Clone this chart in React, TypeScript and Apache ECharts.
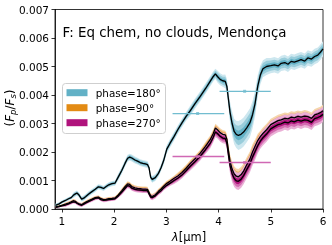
import React, { useEffect, useRef } from 'react';
import * as echarts from 'echarts';

const lam = [0.88,0.95,1.0,1.07,1.13,1.18,1.22,1.26,1.29,1.33,
1.38,1.42,1.46,1.51,1.57,1.64,1.70,1.75,1.80,1.85,
1.90,1.96,2.02,2.08,2.15,2.21,2.26,2.30,2.34,2.40,
2.45,2.50,2.55,2.60,2.64,2.67,2.70,2.73,2.79,2.85,
2.90,2.95,3.01,3.07,3.15,3.22,3.30,3.38,3.46,3.55,
3.65,3.75,3.84,3.90,3.94,3.98,4.03,4.08,4.13,4.16,
4.19,4.22,4.26,4.30,4.34,4.38,4.43,4.48,4.54,4.60,
4.65,4.70,4.75,4.80,4.85,4.92,5.00,5.07,5.14,5.20,
5.27,5.33,5.39,5.45,5.52,5.58,5.65,5.71,5.78,5.84,
5.90,5.95,6.00];

const phase180 = [0.00013,0.00018,0.00024,0.00030,0.00036,0.00040,0.00048,0.00053,0.00056,0.00049,
0.00035,0.00038,0.00044,0.00052,0.00060,0.00069,0.00078,0.00076,0.00072,0.00079,
0.00085,0.00089,0.00091,0.00112,0.00136,0.00160,0.00178,0.00182,0.00179,0.00172,
0.00168,0.00163,0.00160,0.00158,0.00156,0.00145,0.00112,0.00104,0.00110,0.00125,
0.00145,0.00170,0.00210,0.00230,0.00255,0.00278,0.00302,0.00325,0.00345,0.00370,
0.00395,0.00422,0.00448,0.00465,0.00474,0.00465,0.00455,0.00450,0.00448,0.00430,
0.00385,0.00340,0.00300,0.00272,0.00262,0.00258,0.00262,0.00270,0.00285,0.00302,
0.00330,0.00370,0.00430,0.00470,0.00492,0.00500,0.00503,0.00506,0.00502,0.00511,
0.00514,0.00508,0.00518,0.00515,0.00520,0.00524,0.00519,0.00530,0.00526,0.00535,
0.00540,0.00550,0.00562];

const phase90 = [0.00007,0.00010,0.00013,0.00017,0.00021,0.00025,0.00029,0.00027,0.00022,0.00018,
0.00015,0.00020,0.00024,0.00029,0.00034,0.00040,0.00042,0.00036,0.00033,0.00034,
0.00036,0.00037,0.00039,0.00049,0.00064,0.00078,0.00088,0.00086,0.00079,0.00074,
0.00072,0.00071,0.00070,0.00070,0.00069,0.00058,0.00046,0.00044,0.00050,0.00062,
0.00070,0.00080,0.00090,0.00097,0.00108,0.00116,0.00128,0.00143,0.00160,0.00176,
0.00196,0.00220,0.00243,0.00265,0.00284,0.00278,0.00268,0.00262,0.00260,0.00245,
0.00205,0.00168,0.00140,0.00123,0.00115,0.00113,0.00120,0.00133,0.00155,0.00175,
0.00200,0.00220,0.00240,0.00254,0.00265,0.00278,0.00296,0.00303,0.00310,0.00313,
0.00318,0.00316,0.00322,0.00320,0.00325,0.00322,0.00326,0.00324,0.00318,0.00330,
0.00334,0.00338,0.00345];

const phase270 = [0.00006,0.00008,0.00011,0.00014,0.00018,0.00022,0.00025,0.00024,0.00020,0.00016,
0.00013,0.00017,0.00021,0.00026,0.00031,0.00037,0.00039,0.00033,0.00030,0.00031,
0.00033,0.00034,0.00036,0.00045,0.00059,0.00072,0.00082,0.00080,0.00073,0.00069,
0.00067,0.00066,0.00065,0.00065,0.00064,0.00053,0.00042,0.00040,0.00046,0.00057,
0.00064,0.00074,0.00083,0.00090,0.00100,0.00108,0.00119,0.00134,0.00150,0.00166,
0.00185,0.00208,0.00230,0.00252,0.00270,0.00265,0.00255,0.00249,0.00247,0.00230,
0.00190,0.00152,0.00124,0.00107,0.00099,0.00097,0.00104,0.00117,0.00138,0.00158,
0.00182,0.00202,0.00222,0.00238,0.00250,0.00263,0.00281,0.00289,0.00296,0.00299,
0.00305,0.00302,0.00309,0.00306,0.00312,0.00308,0.00313,0.00311,0.00304,0.00317,
0.00321,0.00325,0.00332];

// 1-sigma spread, in units of 1e-5
const sig180 = [2,2,2,2,2,2,3,3,3,3, 3,3,3,3,3,3,3,3,3,3, 3,3,3,4,4,4,4,4,4,4,
4,4,4,4,4,4,4,4,4,4, 4,5,5,5,5,5,5,5,6,6, 6,6,6,6,6,7,7,7,8,9,
10,12,14,15,16,17,17,17,17,17, 16,15,13,11,10,10,9,9,9,9, 9,9,9,9,9,9,9,9,9,9, 9,9,9];
const sig90 = [1,1,1,2,2,2,2,2,2,2, 2,2,2,2,2,2,2,2,2,2, 2,2,2,2,3,3,3,3,3,3,
3,3,3,3,3,3,3,3,3,3, 3,3,3,3,3,4,4,4,4,4, 4,5,5,5,5,5,5,5,5,6,
7,8,9,9,9,9,9,9,9,9, 9,8,8,7,7,7,7,7,7,7, 7,7,7,7,7,7,7,7,7,7, 7,7,7];
const sig270 = [1,1,1,2,2,2,2,2,2,2, 2,2,2,2,2,2,2,2,2,2, 2,2,2,2,3,3,3,3,3,3,
3,3,3,3,3,3,3,3,3,3, 3,3,3,3,4,4,4,4,5,5, 5,5,6,6,6,6,6,6,6,7,
8,9,10,10,10,10,10,10,10,10, 10,10,9,9,9,9,9,9,9,9, 9,9,9,9,9,9,9,9,9,9, 9,9,9];

const xTicks = [1, 2, 3, 4, 5, 6];
const obsLam = [3.6, 4.5];
const obsLo = [3.12, 4.02];
const obsHi = [4.11, 5.0];
const obs180 = [0.00335, 0.00413];
const obs270 = [0.00184, 0.00163];

const legendNames = ['phase=180°', 'phase=90°', 'phase=270°'];
const legendColors = ['#62b1c6', '#e38b14', '#b0137c'];

const FONT = 'DejaVu Sans';

const C180 = ['#cde7ef', '#99cddb', '#62b1c6'];
const C90 = ['#f5d5ac', '#edae62', '#e38b14'];
const C270 = ['#eab0d6', '#d36bb0', '#b0137c'];

function band(name: string, vals: number[], sig: number[], k: number, color: string, z: number) {
  return {
    type: 'custom',
    name,
    z,
    silent: true,
    clip: true,
    coordinateSystem: 'cartesian2d',
    data: [[lam[0], vals[0]]],
    encode: { x: 0, y: 1 },
    itemStyle: { color },
    renderItem: (_p: any, api: any) => {
      const up = lam.map((l, i) => api.coord([l, vals[i] + k * sig[i] * 1e-5]));
      const dn = lam.map((l, i) => api.coord([l, vals[i] - k * sig[i] * 1e-5])).reverse();
      return { type: 'polygon', shape: { points: up.concat(dn) }, style: { fill: color } };
    },
  };
}

function median(name: string, vals: number[], z: number) {
  return {
    type: 'line', name, z, silent: true, symbol: 'none',
    data: lam.map((l, i) => [l, vals[i]]),
    lineStyle: { color: '#000', width: 1.3 },
  };
}

function errBars(name: string, vals: number[], color: string, width: number) {
  const out: any[] = [];
  vals.forEach((v, i) => {
    out.push({
      type: 'line', name: name + i, z: 20, silent: true, symbol: 'none',
      data: [[obsLo[i], v], [obsHi[i], v]],
      lineStyle: { color, width },
    });
  });
  out.push({
    type: 'scatter', name: name + 'pt', z: 21, silent: true,
    symbol: 'rect', symbolSize: 3,
    data: vals.map((v, i) => [obsLam[i], v]),
    itemStyle: { color },
  });
  return out;
}

function legendGraphic() {
  const els: any[] = [
    {
      type: 'rect', z: 100, silent: true,
      shape: { x: 62.5, y: 83.5, width: 103, height: 50, r: 3 },
      style: { fill: 'rgba(255,255,255,0.85)', stroke: '#cfcfcf', lineWidth: 1 },
    },
  ];
  legendNames.forEach((n, i) => {
    const cy = 92.7 + i * 15;
    els.push({
      type: 'rect', z: 101, silent: true,
      shape: { x: 66.5, y: cy - 3.5, width: 21, height: 7 },
      style: { fill: legendColors[i] },
    });
    els.push({
      type: 'text', z: 101, silent: true,
      x: 95.7, y: cy,
      style: { text: n, fontFamily: FONT, fontSize: 10.4, fill: '#000', verticalAlign: 'middle', align: 'left' },
    });
  });
  els.push({
    type: 'text', z: 101, silent: true,
    x: 10, y: 108, rotation: Math.PI / 2,
    style: {
      text: '({f|F}{s|p}/{f|F}{s|s})',
      fontFamily: FONT, fontSize: 12, fill: '#000', align: 'center', verticalAlign: 'middle',
      rich: {
        f: { fontFamily: FONT, fontSize: 12, fontStyle: 'italic', fill: '#000' },
        s: { fontFamily: FONT, fontSize: 8.5, fontStyle: 'italic', fill: '#000', verticalAlign: 'bottom', padding: [5, 0, 0, 0] },
      },
    },
  });
  return els;
}

export default function App() {
  const ref = useRef<HTMLDivElement>(null);
  useEffect(() => {
    if (!ref.current) return;
    const chart = echarts.init(ref.current, null, { renderer: 'svg' });
    const option: any = {
      animation: false,
      textStyle: { fontFamily: FONT },
      grid: { left: 55, right: 9, top: 9.5, bottom: 36, show: true, borderColor: '#000', borderWidth: 0.8, containLabel: false, outerBoundsMode: 'none' },
      title: {
        text: 'F: Eq chem, no clouds, Mendonça',
        left: 62.5, top: 25.5, padding: 0,
        textStyle: { fontFamily: FONT, fontSize: 13.4, fontWeight: 'normal', color: '#000' },
      },
      graphic: legendGraphic(),
      xAxis: {
        type: 'value', min: 0.87, max: 6,
        name: '{i|λ}[µm]', nameLocation: 'middle', nameGap: 16,
        nameTextStyle: { fontFamily: FONT, fontSize: 11.5, color: '#000', rich: { i: { fontFamily: FONT, fontSize: 11.5, fontStyle: 'italic', color: '#000' } } },
        axisLine: { lineStyle: { color: '#000', width: 0.8 } },
        axisTick: { show: true, length: 3.5, lineStyle: { color: '#000', width: 0.8 }, customValues: xTicks },
        axisLabel: { customValues: xTicks, fontFamily: FONT, fontSize: 10.5, color: '#000', margin: 6, formatter: (v: number) => String(v) },
        splitLine: { show: false },
      },
      yAxis: {
        type: 'value', min: 0, max: 0.007, interval: 0.001,
        axisLine: { show: true, lineStyle: { color: '#000', width: 0.8 } },
        axisTick: { show: true, length: 3.5, lineStyle: { color: '#000', width: 0.8 } },
        axisLabel: { fontFamily: FONT, fontSize: 10.5, color: '#000', margin: 6, formatter: (v: number) => v.toFixed(3) },
        splitLine: { show: false },
      },
      series: [
        band('b180o', phase180, sig180, 3, C180[0], 1),
        band('b180m', phase180, sig180, 2, C180[1], 1),
        band('b180i', phase180, sig180, 1, C180[2], 1),
        median('m180', phase180, 2),
        band('b90o', phase90, sig90, 3, C90[0], 3),
        band('b90m', phase90, sig90, 2, C90[1], 3),
        band('b90i', phase90, sig90, 1, C90[2], 3),
        band('b270o', phase270, sig270, 3, C270[0], 4),
        band('b270m', phase270, sig270, 2, C270[1], 4),
        band('b270i', phase270, sig270, 1, C270[2], 4),
        median('m90', phase90, 5),
        median('m270', phase270, 5),
        ...errBars('e180', obs180, '#72bdd0', 1.2),
        ...errBars('e270', obs270, '#d068b4', 1.4),
      ],
    };
    chart.setOption(option);
    return () => chart.dispose();
  }, []);
  return <div ref={ref} style={{ position: 'fixed', left: 0, top: 0, width: 332, height: 245 }} />;
}
